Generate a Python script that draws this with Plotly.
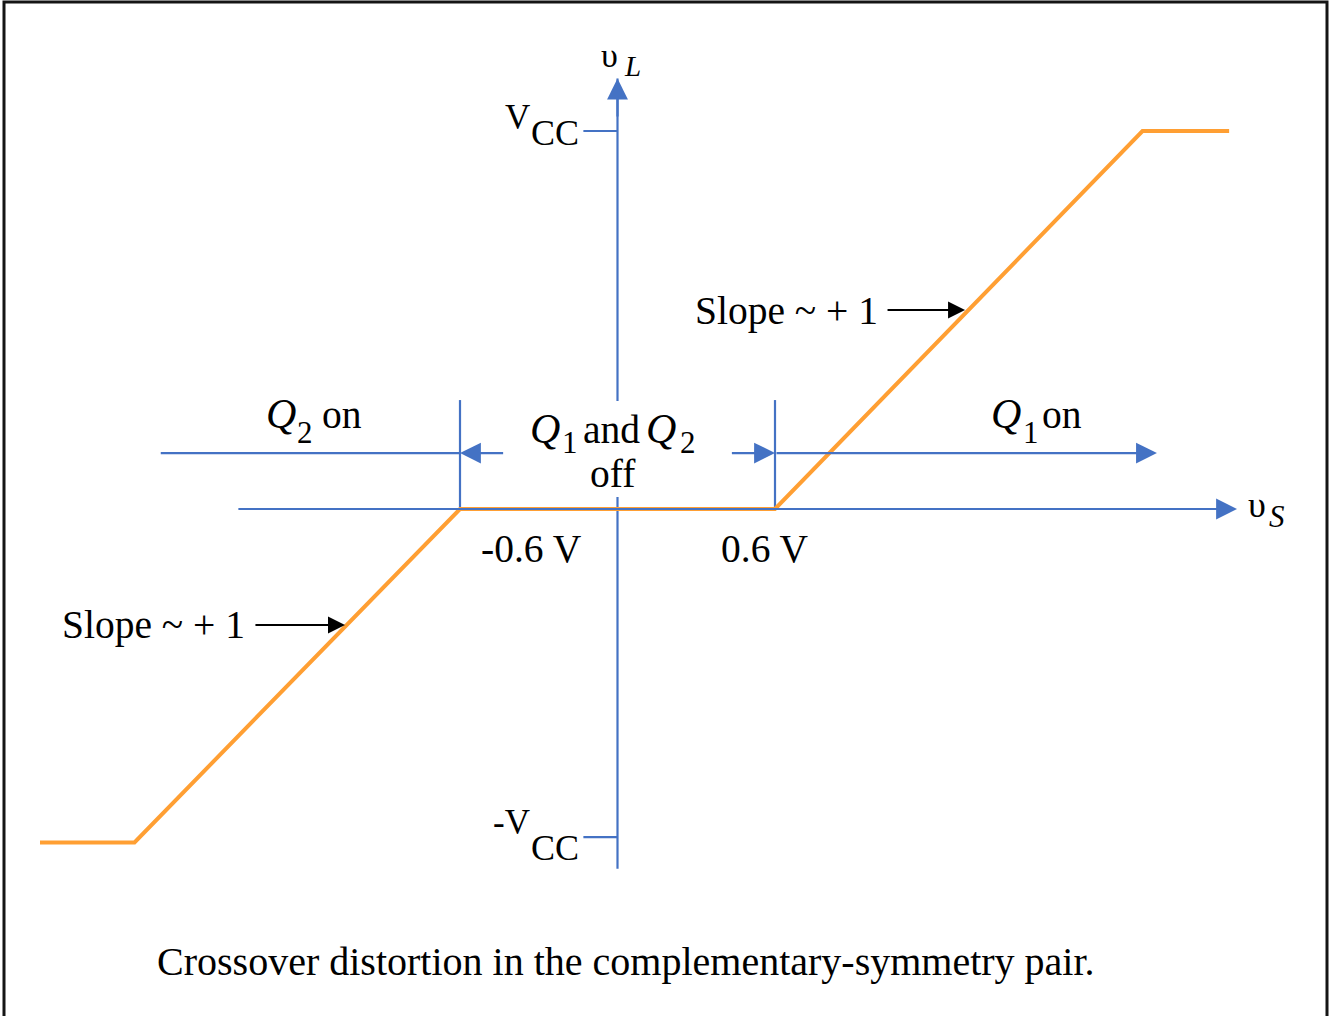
import plotly.graph_objects as go

# transfer characteristic (schematic units, threshold at +/-0.6 V)
v_th = 0.6
v_cc = 1.44
v_cc_neg = -1.25
vs_curve = [-2.20, -1.84, -v_th, v_th, 2.00, 2.33]
vl_curve = [-1.27, -1.27, 0.0, 0.0, v_cc, v_cc]

# axes, ticks and region markers
vs_axis = [-1.45, 2.36]
vl_axis = [-1.37, 1.64]
tick_len = 0.13
marker_top = 0.415
region_y = 0.213
region_ends = [-1.74, 2.055]
inner_len = 0.17

# "slope ~ +1" pointers: (tail x, tip x, y)
slope_ptrs = [(1.023, 1.324, 0.758), (-1.385, -1.038, -0.442)]

BLUE = "#4472C4"
ORANGE = "#FF9F33"
FONT = "Liberation Serif"

# pixel helpers for text placement only
K, X0, Y0 = 262.5, 617.5, 509


def px(x):
    return (x - X0) / K


def py(y):
    return (Y0 - y) / K


fig = go.Figure()

def seg(xs, ys, color=BLUE, width=2.2):
    fig.add_trace(go.Scatter(x=xs, y=ys, mode="lines", line=dict(color=color, width=width),
                             hoverinfo="skip", showlegend=False))

def arrow(x0, y0, x1, y1, color=BLUE, width=2.2, size=1.9):
    fig.add_annotation(x=x1, y=y1, ax=x0, ay=y0, xref="x", yref="y", axref="x", ayref="y",
                       text="", showarrow=True, arrowhead=2, arrowsize=size,
                       arrowwidth=width, arrowcolor=color, standoff=0)

# vs axis
arrow(vs_axis[0], 0, vs_axis[1], 0)
# vl axis: shaft as a line (so the label box can cover it), head as an arrow
seg([0, 0], vl_axis)
arrow(0, vl_axis[1] - 0.15, 0, vl_axis[1])

# Vcc ticks
seg([-tick_len, 0], [v_cc, v_cc])
seg([-tick_len, 0], [v_cc_neg, v_cc_neg])

# threshold markers
for t in (-v_th, v_th):
    seg([t, t], [0, marker_top])

# region lines
seg([region_ends[0], -v_th], [region_y, region_y])
arrow(-v_th + inner_len, region_y, -v_th, region_y)
arrow(v_th - inner_len, region_y, v_th, region_y)
arrow(v_th, region_y, region_ends[1], region_y)

# white box behind the "Q1 and Q2 off" label (hides the vL axis there)
fig.add_shape(type="rect", xref="x", yref="y", x0=px(508), x1=px(722), y0=py(497), y1=py(401),
              fillcolor="white", line=dict(width=0), layer="above")

# characteristic
seg(vs_curve, vl_curve, color=ORANGE, width=4)

# slope pointers
for x0, x1, y in slope_ptrs:
    arrow(x0, y, x1, y, color="black", width=2, size=1.7)


def label(text, x, base, size=39.5, xanchor="left", italic=False):
    # y given as the text baseline in pixels
    fig.add_annotation(x=px(x), y=py(base - 0.3375 * size), text=text, showarrow=False,
                       xanchor=xanchor, yanchor="middle", xref="x", yref="y",
                       borderpad=0,
                       font=dict(family=FONT, size=size, color="black",
                                 style="italic" if italic else "normal"))


label("Slope ~ + 1", 786, 324, xanchor="center")
label("Slope ~ + 1", 153, 638, xanchor="center")

# Q2 on
label("Q", 265, 428, size=42, italic=True)
label("2", 296, 443, size=31)
label("on", 321, 428)
# Q1 and Q2 / off
label("Q", 529, 443, size=42, italic=True)
label("1", 561, 453, size=31)
label("and", 582, 443)
label("Q", 645, 443, size=42, italic=True)
label("2", 679, 453, size=31)
label("off", 613, 487, xanchor="center")
# Q1 on
label("Q", 990, 428, size=42, italic=True)
label("1", 1022, 443, size=31)
label("on", 1041, 428)

label("-0.6 V", 531, 562, xanchor="center")
label("0.6 V", 765, 562, xanchor="center")

# Vcc labels
label("V", 531, 129, size=35, xanchor="right")
label("CC", 530, 145, size=36)
label("-V", 531, 834, size=35, xanchor="right")
label("CC", 530, 860, size=36)

# axis names
label("υ", 600, 67, size=34)
label("L", 623, 76, size=29, italic=True)
label("υ", 1247, 517, size=36)
label("S", 1268, 527, size=31, italic=True)

label("Crossover distortion in the complementary-symmetry pair.", 626, 975, size=40,
      xanchor="center")

# frame
fig.add_shape(type="rect", xref="paper", yref="paper", x0=4 / 1329, x1=1327 / 1329,
              y0=-0.02, y1=1 - 2 / 1016, line=dict(color="#151515", width=3))

fig.update_xaxes(range=[px(0), px(1329)], visible=False, fixedrange=True)
fig.update_yaxes(range=[py(1016), py(0)], visible=False, fixedrange=True)
fig.update_layout(width=1329, height=1016, margin=dict(l=0, r=0, t=0, b=0),
                  plot_bgcolor="white", paper_bgcolor="white", showlegend=False)

fig.write_html("out.html", config={"displayModeBar": False},
               post_script="document.body.style.margin='0';")
